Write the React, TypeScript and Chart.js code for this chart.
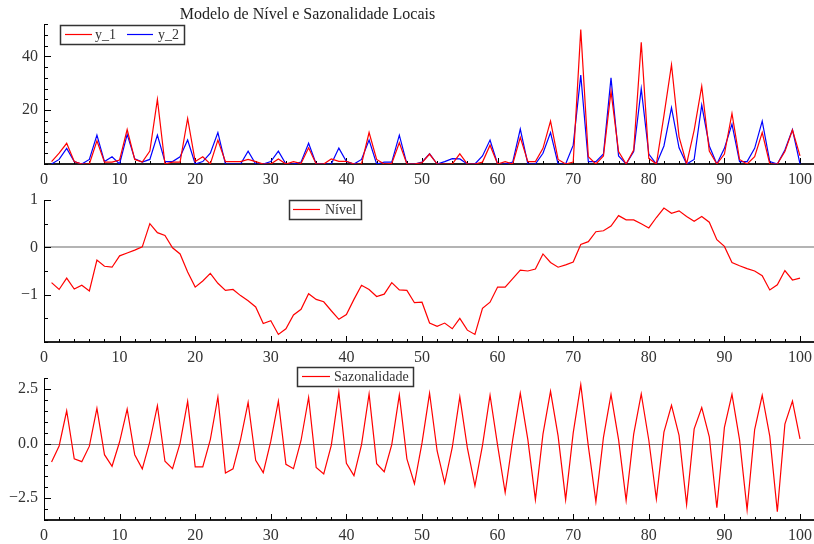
import React, { useEffect, useRef } from "react";
import { Chart, registerables } from "chart.js";

Chart.register(...registerables);

// ---- data ----
const titleText = "Modelo de Nível e Sazonalidade Locais";

const y1 = [
  0.9, 4, 7.7, 0.9, 0, 0, 8.6, 0.7, 0.7, 1.5,
  12.8, 1.7, 0.7, 4.8, 24, 0, 0.7, 0.7, 16.9, 0.9,
  2.7, 0, 8.9, 0.9, 0.9, 0.9, 1.7, 0.9, 0, 0,
  1.9, 0, 0.9, 0.2, 6, 0, 0, 1.9, 1, 1,
  0, 0, 11.7, 1.7, 0, 0.2, 7.9, 0, 0, 0.5,
  3.7, 0, 0, 0, 3.8, 0, 0, 0.7, 7, 0,
  0.9, 0, 9.9, 0.9, 0.9, 5.8, 15.9, 1.7, 0, 0.7,
  49.9, 2.7, 0, 3, 27, 4.6, 0, 5.2, 45.2, 2.1,
  0, 18, 36.9, 10.1, 0, 12.6, 28.9, 4.8, 0, 3.7,
  18.8, 1.7, 0, 2.7, 11.7, 0, 0, 4.6, 12.6, 3,
];

const y2 = [
  0, 1.7, 5.8, 0.9, 0, 1.7, 10.7, 0.9, 2.7, 0,
  11, 1.9, 0.7, 1.7, 10.7, 0.9, 0.9, 2.7, 8.9, 0,
  0.9, 4, 11.7, 0, 0, 0, 4.8, 0, 0, 0.9,
  4.8, 0, 0, 0.7, 7.7, 0, 0, 0, 5.9, 0.9,
  0, 1.7, 8.9, 0, 0.7, 0.7, 10.7, 0, 0, 0.7,
  3.8, 0, 0.9, 2, 1.9, 0, 0, 3, 8.9, 0,
  0, 0.7, 13, 0, 0, 4, 11.7, 0, 0, 7,
  33, 0.9, 0.9, 3.7, 32, 3, 0, 4.6, 28, 3.7,
  0, 6.7, 20.9, 6, 0, 1.7, 21.9, 6.7, 0, 5.8,
  14.8, 0.9, 0.9, 5.8, 15.9, 0.9, 0, 5.2, 12.8, 0,
];

const nivel = [
  -0.745, -0.89, -0.65, -0.88, -0.8, -0.92, -0.27, -0.4, -0.42, -0.18,
  -0.12, -0.06, 0.01, 0.5, 0.31, 0.25, -0.01, -0.14, -0.52, -0.84,
  -0.71, -0.55, -0.76, -0.91, -0.89, -1.02, -1.13, -1.26, -1.61, -1.55,
  -1.84, -1.72, -1.43, -1.31, -0.98, -1.1, -1.15, -1.34, -1.52, -1.42,
  -1.1, -0.8, -0.89, -1.04, -0.99, -0.745, -0.9, -0.91, -1.17, -1.16,
  -1.6, -1.67, -1.6, -1.72, -1.5, -1.75, -1.84, -1.29, -1.16, -0.84,
  -0.84, -0.66, -0.48, -0.5, -0.46, -0.14, -0.32, -0.42, -0.37, -0.31,
  0.06, 0.12, 0.33, 0.35, 0.45, 0.67, 0.58, 0.58, 0.5, 0.41,
  0.63, 0.83, 0.72, 0.77, 0.65, 0.55, 0.65, 0.53, 0.16, 0.02,
  -0.32, -0.39, -0.45, -0.5, -0.6, -0.9, -0.79, -0.49, -0.69, -0.65,
];

const sazonalidade = [
  -0.84, -0.11, 1.5, -0.7, -0.83, -0.12, 1.61, -0.51, -1.04, 0.08,
  1.58, -0.51, -1.16, 0.09, 1.73, -0.81, -1.15, 0.02, 1.93, -1.07,
  -1.07, 0.18, 2.13, -1.35, -1.16, 0.18, 1.88, -0.77, -1.33, 0.11,
  1.94, -0.95, -1.15, 0.14, 2.11, -1.09, -1.39, -0.08, 2.34, -0.9,
  -1.47, -0.05, 2.27, -0.92, -1.29, -0.05, 2.22, -0.7, -1.84, 0.03,
  2.3, -0.34, -1.81, -0.18, 2.14, -0.2, -1.94, -0.08, 2.21, -0.08,
  -2.24, 0.18, 2.3, 0.18, -2.57, 0.43, 2.39, 0.35, -2.57, 0.49,
  2.7, -0.12, -2.66, 0.28, 2.24, 0.18, -2.6, 0.43, 2.27, 0.15,
  -2.54, 0.52, 1.75, 0.37, -2.79, 0.67, 1.65, 0.31, -2.94, 0.74,
  2.25, 0.18, -3.03, 0.64, 2.21, 0.34, -3.12, 0.89, 1.94, 0.21,
];

const xTickValues = [0, 10, 20, 30, 40, 50, 60, 70, 80, 90, 100];
const yTicksTop = [20, 40];
const yTicksMid = [-1, 0, 1];
const yTicksBot = [-2.5, 0, 2.5];

// ---- styling ----
const FONT = "'Liberation Serif', 'Times New Roman', serif";
const TEXT = "#333333";
const RED = "#ff0000";
const BLUE = "#0000ff";
const W = 814;
const X_MAX = 101.85;

const minus = (s: string) => s.replace("-", "\u2212");

type LegendItem = { label: string; color: string; x1: number; x2: number; tx: number };
type Panel = {
  top: number;
  height: number;
  padTop: number;
  yMin: number;
  yMax: number;
  yTicks: number[];
  yMinorStep: number;
  fmt: (v: number) => string;
  zero?: { color: string; width: number };
  series: { label: string; data: number[]; color: string }[];
  legend: { x: number; y: number; w: number; h: number; items: LegendItem[] };
  title?: boolean;
};

const panels: Panel[] = [
  {
    top: 0, height: 188, padTop: 24, yMin: 0, yMax: 52, yTicks: yTicksTop, yMinorStep: 4,
    fmt: (v) => String(v),
    series: [
      { label: "y_1", data: y1, color: RED },
      { label: "y_2", data: y2, color: BLUE },
    ],
    legend: {
      x: 60, y: 25, w: 124, h: 19,
      items: [
        { label: "y_1", color: RED, x1: 65, x2: 92, tx: 95 },
        { label: "y_2", color: BLUE, x1: 127, x2: 153, tx: 158 },
      ],
    },
    title: true,
  },
  {
    top: 188, height: 178, padTop: 12, yMin: -2, yMax: 1, yTicks: yTicksMid, yMinorStep: 0.5,
    fmt: (v) => minus(String(v)),
    zero: { color: "#b4b4b4", width: 2 },
    series: [{ label: "Nível", data: nivel, color: RED }],
    legend: {
      x: 289, y: 200, w: 72, h: 19,
      items: [{ label: "Nível", color: RED, x1: 293, x2: 320, tx: 325 }],
    },
  },
  {
    top: 366, height: 178, padTop: 12, yMin: -3.5, yMax: 3, yTicks: yTicksBot, yMinorStep: 0.5,
    fmt: (v) => minus(v.toFixed(1)),
    zero: { color: "#808080", width: 1 },
    series: [{ label: "Sazonalidade", data: sazonalidade, color: RED }],
    legend: {
      x: 297, y: 367, w: 116, h: 19,
      items: [{ label: "Sazonalidade", color: RED, x1: 302, x2: 330, tx: 334 }],
    },
  },
];

function makePlugin(p: Panel, idx: number) {
  return {
    id: "panelDecor" + idx,
    beforeDatasetsDraw(chart: any) {
      const { ctx, chartArea, scales } = chart;
      const xs = scales.x;
      const ys = scales.y;
      ctx.save();
      // zero line
      if (p.zero) {
        const y0 = Math.round(ys.getPixelForValue(0)) + (p.zero.width % 2 ? 0.5 : 0);
        ctx.strokeStyle = p.zero.color;
        ctx.lineWidth = p.zero.width;
        ctx.beginPath();
        ctx.moveTo(chartArea.left, y0);
        ctx.lineTo(chartArea.right, y0);
        ctx.stroke();
      }
      // axes
      ctx.strokeStyle = "#000";
      ctx.lineWidth = 1;
      ctx.beginPath();
      ctx.moveTo(chartArea.left + 0.5, chartArea.top);
      ctx.lineTo(chartArea.left + 0.5, chartArea.bottom);
      ctx.stroke();
      ctx.strokeStyle = "#222";
      ctx.lineWidth = 2;
      ctx.beginPath();
      ctx.moveTo(chartArea.left, chartArea.bottom);
      ctx.lineTo(chartArea.right, chartArea.bottom);
      ctx.stroke();
      // x tick marks (inside)
      ctx.strokeStyle = "#000";
      ctx.lineWidth = 1;
      ctx.beginPath();
      for (let v = 0; v <= 100; v += 2) {
        const x = Math.round(xs.getPixelForValue(v)) + 0.5;
        const len = v % 10 === 0 ? 6 : 3;
        ctx.moveTo(x, chartArea.bottom);
        ctx.lineTo(x, chartArea.bottom - len);
      }
      ctx.stroke();
      // y tick marks (inside)
      ctx.beginPath();
      const n = Math.round((p.yMax - p.yMin) / p.yMinorStep);
      for (let k = 0; k <= n; k++) {
        const v = p.yMin + k * p.yMinorStep;
        const y = Math.round(ys.getPixelForValue(v)) + 0.5;
        const major = p.yTicks.some((t) => Math.abs(t - v) < 1e-9);
        const len = major ? 7 : 4;
        ctx.moveTo(chartArea.left, y);
        ctx.lineTo(chartArea.left + len, y);
      }
      ctx.stroke();
      ctx.restore();
    },
    afterDraw(chart: any) {
      const { ctx } = chart;
      ctx.save();
      // legend (page coords -> canvas coords)
      const L = p.legend;
      const ly = L.y - p.top;
      ctx.fillStyle = "#fff";
      ctx.fillRect(L.x, ly, L.w, L.h);
      ctx.strokeStyle = "#333";
      ctx.lineWidth = 1.5;
      ctx.strokeRect(L.x + 0.5, ly + 0.5, L.w, L.h);
      const cy = ly + L.h / 2;
      ctx.font = `14px ${FONT}`;
      ctx.textBaseline = "middle";
      ctx.textAlign = "left";
      L.items.forEach((it) => {
        ctx.strokeStyle = it.color;
        ctx.lineWidth = 1.2;
        ctx.beginPath();
        ctx.moveTo(it.x1, cy);
        ctx.lineTo(it.x2, cy);
        ctx.stroke();
        ctx.fillStyle = TEXT;
        ctx.fillText(it.label, it.tx, cy + 1);
      });
      // title
      if (p.title) {
        ctx.font = `16px ${FONT}`;
        ctx.fillStyle = "#222";
        ctx.textAlign = "center";
        ctx.textBaseline = "alphabetic";
        ctx.fillText(titleText, 307.5, 19);
      }
      ctx.restore();
    },
  };
}

function buildConfig(p: Panel, idx: number): any {
  return {
    type: "line",
    data: {
      datasets: p.series.map((s) => ({
        label: s.label,
        data: s.data.map((v, i) => ({ x: i + 1, y: v })),
        borderColor: s.color,
        backgroundColor: s.color,
        borderWidth: 1.2,
        pointRadius: 0,
        tension: 0,
        fill: false,
      })),
    },
    options: {
      responsive: false,
      maintainAspectRatio: false,
      animation: false,
      events: [],
      layout: { padding: { top: p.padTop, left: 0, right: 0, bottom: 0 } },
      plugins: {
        legend: { display: false },
        title: { display: false },
        tooltip: { enabled: false },
      },
      scales: {
        x: {
          type: "linear",
          min: 0,
          max: X_MAX,
          grid: { display: false, drawTicks: false },
          border: { display: false },
          afterBuildTicks: (s: any) => {
            s.ticks = xTickValues.map((v) => ({ value: v }));
          },
          afterFit: (s: any) => {
            s.height = 24;
            s.paddingLeft = 0;
            s.paddingRight = 0;
          },
          ticks: {
            autoSkip: false,
            maxRotation: 0,
            padding: 6,
            color: TEXT,
            font: { family: FONT, size: 16 },
            callback: (v: number) => String(v),
          },
        },
        y: {
          type: "linear",
          min: p.yMin,
          max: p.yMax,
          grid: { display: false, drawTicks: false },
          border: { display: false },
          afterBuildTicks: (s: any) => {
            s.ticks = p.yTicks.map((v) => ({ value: v }));
          },
          afterFit: (s: any) => {
            s.width = 44;
            s.paddingTop = 0;
            s.paddingBottom = 0;
          },
          ticks: {
            padding: 6,
            color: TEXT,
            font: { family: FONT, size: 16 },
            callback: (v: number) => p.fmt(v),
          },
        },
      },
    },
    plugins: [makePlugin(p, idx)],
  };
}

export default function App() {
  const refs = [
    useRef<HTMLCanvasElement>(null),
    useRef<HTMLCanvasElement>(null),
    useRef<HTMLCanvasElement>(null),
  ];
  useEffect(() => {
    const charts = panels.map((p, i) => new Chart(refs[i].current as HTMLCanvasElement, buildConfig(p, i)));
    return () => charts.forEach((c) => c.destroy());
  }, []);
  return (
    <div style={{ position: "absolute", left: 0, top: 0, width: W, height: 544, background: "#fff" }}>
      {panels.map((p, i) => (
        <canvas
          key={i}
          ref={refs[i]}
          width={W}
          height={p.height}
          style={{ position: "absolute", left: 0, top: p.top, width: W, height: p.height, display: "block" }}
        />
      ))}
    </div>
  );
}
